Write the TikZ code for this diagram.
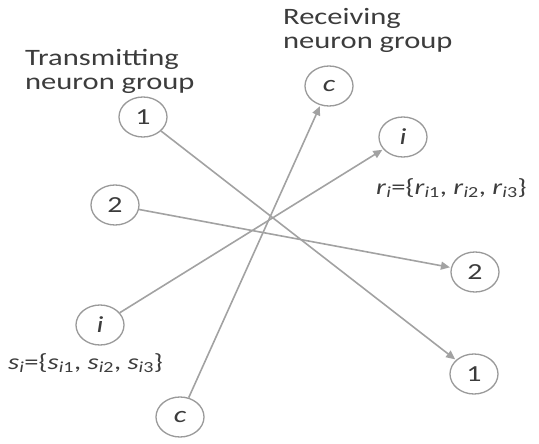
\documentclass[tikz,border=0pt]{standalone}
\usepackage{fontspec}
\setmainfont[FakeStretch=1.3]{Carlito}
\usepackage{tikz}
\usetikzlibrary{arrows.meta,shapes.geometric}
\definecolor{ringgray}{HTML}{9A9A9A}
\definecolor{wiregray}{HTML}{A2A2A2}
\definecolor{inkgray}{HTML}{3C3C3C}
\newcommand{\vecset}[1]{\textit{#1}\textsubscript{\textit{i}}=\{\textit{#1}\textsubscript{\textit{i}1}, \textit{#1}\textsubscript{\textit{i}2}, \textit{#1}\textsubscript{\textit{i}3}\}}

\begin{document}
\begin{tikzpicture}[
    x=1pt, y=-1pt,
    neuron/.style={draw=ringgray, line width=1.3pt, ellipse, minimum width=48pt, minimum height=40pt, inner sep=0pt, text=inkgray, font=\fontsize{23}{23}\selectfont},
    group/.style={anchor=north west, align=left, inner sep=0pt, text=inkgray, font=\fontsize{23.5}{24}\selectfont},
    vec/.style={anchor=west, inner sep=0pt, text=inkgray, font=\fontsize{22}{22}\selectfont},
    arrow/.style={-{Triangle[length=9pt,width=8pt]}, draw=wiregray, line width=1.6pt, shorten >=1pt}
  ]
    \useasboundingbox (0,0) rectangle (539,444);
    \node[group] (txlabel) at (25,49) {Transmitting\\neuron group};
    \node[group] (rxlabel) at (283,8) {Receiving\\neuron group};

    \node[neuron] (t1) at (143,117) {1};
    \node[neuron] (t2) at (115,205) {2};
    \node[neuron] (ti) at (100,325) {\textit{i}};
    \node[neuron] (tc) at (180,417) {\textit{c}};
    \node[neuron] (rc) at (329,86) {\textit{c}};
    \node[neuron] (ri) at (403,137) {\textit{i}};
    \node[neuron] (r2) at (475,272) {2};
    \node[neuron] (r1) at (474,374) {1};

    \node[vec] (svec) at (8,363) {\vecset{s}};
    \node[vec] (rvec) at (376,188) {\vecset{r}};

    \draw[arrow] (t1) -- (r1);
    \draw[arrow] (t2) -- (r2);
    \draw[arrow] (ti) -- (ri);
    \draw[arrow] (tc) -- (rc);
  \end{tikzpicture}
\end{document}
